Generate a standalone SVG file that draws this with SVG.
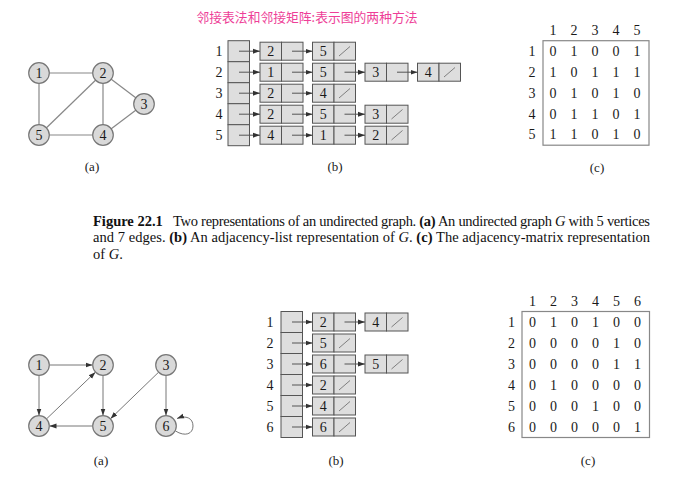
<svg xmlns="http://www.w3.org/2000/svg" width="682" height="478" viewBox="0 0 682 478">
<defs>
<marker id="ah" viewBox="0 0 10 10" refX="10" refY="5" markerWidth="7" markerHeight="7" markerUnits="userSpaceOnUse" orient="auto"><path d="M0,1.5 L10,5 L0,8.5 z" fill="#333"/></marker>
</defs>
<style>
text{font-family:"Liberation Serif","Times New Roman",serif;fill:#1a1a1a}
.t{font-family:"Noto Sans CJK SC","Noto Sans",sans-serif;fill:#ee3f98;font-size:12.8px}
.n{font-size:14px;text-anchor:middle}
.lb{font-size:13px;text-anchor:middle}
.c{fill:#d9d9d9;stroke:#777;stroke-width:1.2}
.e{stroke:#888;stroke-width:1.2;fill:none}
.d{stroke:#777;stroke-width:1;fill:none;marker-end:url(#ah)}
.cell{fill:#dedede;stroke:#555;stroke-width:1}
.p{stroke:#555;stroke-width:1;fill:none;marker-end:url(#ah)}
.s{stroke:#666;stroke-width:0.8}
.box{fill:none;stroke:#888;stroke-width:1.2}
.cap{font-size:14.5px;fill:#111}
</style>
<text class="t" x="307" y="22" text-anchor="middle">邻接表法和邻接矩阵:表示图的两种方法</text>

<!-- top graph (a) -->
<g id="edges-top">
<line class="e" x1="39" y1="73" x2="103" y2="73"/>
<line class="e" x1="39" y1="73" x2="39" y2="135"/>
<line class="e" x1="39" y1="135" x2="103" y2="73"/>
<line class="e" x1="103" y1="73" x2="103" y2="135"/>
<line class="e" x1="103" y1="73" x2="144" y2="104"/>
<line class="e" x1="144" y1="104" x2="103" y2="135"/>
<line class="e" x1="39" y1="135" x2="103" y2="135"/>
</g>
<g id="ta1"><circle class="c" cx="39" cy="73" r="10.3"/><text class="n" x="39" y="78">1</text></g>
<g id="ta2"><circle class="c" cx="103" cy="73" r="10.3"/><text class="n" x="103" y="78">2</text></g>
<g id="ta3"><circle class="c" cx="144" cy="104" r="10.3"/><text class="n" x="144" y="109">3</text></g>
<g id="ta4"><circle class="c" cx="103" cy="135" r="10.3"/><text class="n" x="103" y="140">4</text></g>
<g id="ta5"><circle class="c" cx="39" cy="135" r="10.3"/><text class="n" x="39" y="140">5</text></g>
<text class="lb" x="92" y="171">(a)</text>

<!-- top list (b) -->
<g id="tlist">
<text class="n" x="219" y="56">1</text><text class="n" x="219" y="77">2</text><text class="n" x="219" y="98">3</text><text class="n" x="219" y="119">4</text><text class="n" x="219" y="140">5</text>
<rect class="cell" x="228" y="40.7" width="21.5" height="21"/>
<rect class="cell" x="228" y="61.7" width="21.5" height="21"/>
<rect class="cell" x="228" y="82.7" width="21.5" height="21"/>
<rect class="cell" x="228" y="103.7" width="21.5" height="21"/>
<rect class="cell" x="228" y="124.7" width="21.5" height="21"/>
<g id="t1"><rect class="cell" x="260" y="42.2" width="21.5" height="18"/><rect class="cell" x="281.5" y="42.2" width="21.5" height="18"/><text class="n" x="270.8" y="56">2</text></g>
<g id="t1b"><rect class="cell" x="312.5" y="42.2" width="21.5" height="18"/><rect class="cell" x="334" y="42.2" width="21.5" height="18"/><text class="n" x="323.3" y="56">5</text><line class="s" x1="339" y1="56" x2="350" y2="46.5"/></g>
<g id="t2"><rect class="cell" x="260" y="63.2" width="21.5" height="18"/><rect class="cell" x="281.5" y="63.2" width="21.5" height="18"/><text class="n" x="270.8" y="77">1</text></g>
<g id="t2b"><rect class="cell" x="312.5" y="63.2" width="21.5" height="18"/><rect class="cell" x="334" y="63.2" width="21.5" height="18"/><text class="n" x="323.3" y="77">5</text></g>
<g id="t2c"><rect class="cell" x="365" y="63.2" width="21.5" height="18"/><rect class="cell" x="386.5" y="63.2" width="21.5" height="18"/><text class="n" x="375.8" y="77">3</text></g>
<g id="t2d"><rect class="cell" x="417.5" y="63.2" width="21.5" height="18"/><rect class="cell" x="439" y="63.2" width="21.5" height="18"/><text class="n" x="428.3" y="77">4</text><line class="s" x1="444" y1="77" x2="455" y2="67.5"/></g>
<g id="t3"><rect class="cell" x="260" y="84.2" width="21.5" height="18"/><rect class="cell" x="281.5" y="84.2" width="21.5" height="18"/><text class="n" x="270.8" y="98">2</text></g>
<g id="t3b"><rect class="cell" x="312.5" y="84.2" width="21.5" height="18"/><rect class="cell" x="334" y="84.2" width="21.5" height="18"/><text class="n" x="323.3" y="98">4</text><line class="s" x1="339" y1="98" x2="350" y2="88.5"/></g>
<g id="t4"><rect class="cell" x="260" y="105.2" width="21.5" height="18"/><rect class="cell" x="281.5" y="105.2" width="21.5" height="18"/><text class="n" x="270.8" y="119">2</text></g>
<g id="t4b"><rect class="cell" x="312.5" y="105.2" width="21.5" height="18"/><rect class="cell" x="334" y="105.2" width="21.5" height="18"/><text class="n" x="323.3" y="119">5</text></g>
<g id="t4c"><rect class="cell" x="365" y="105.2" width="21.5" height="18"/><rect class="cell" x="386.5" y="105.2" width="21.5" height="18"/><text class="n" x="375.8" y="119">3</text><line class="s" x1="391.5" y1="119" x2="402.5" y2="109.5"/></g>
<g id="t5"><rect class="cell" x="260" y="126.2" width="21.5" height="18"/><rect class="cell" x="281.5" y="126.2" width="21.5" height="18"/><text class="n" x="270.8" y="140">4</text></g>
<g id="t5b"><rect class="cell" x="312.5" y="126.2" width="21.5" height="18"/><rect class="cell" x="334" y="126.2" width="21.5" height="18"/><text class="n" x="323.3" y="140">1</text></g>
<g id="t5c"><rect class="cell" x="365" y="126.2" width="21.5" height="18"/><rect class="cell" x="386.5" y="126.2" width="21.5" height="18"/><text class="n" x="375.8" y="140">2</text><line class="s" x1="391.5" y1="140" x2="402.5" y2="130.5"/></g>
</g>
<g id="tlist-arrows">
<line class="p" x1="239" y1="51.2" x2="260" y2="51.2"/><line class="p" x1="292" y1="51.2" x2="312.5" y2="51.2"/>
<line class="p" x1="239" y1="72.2" x2="260" y2="72.2"/><line class="p" x1="292" y1="72.2" x2="312.5" y2="72.2"/><line class="p" x1="344.5" y1="72.2" x2="365" y2="72.2"/><line class="p" x1="397" y1="72.2" x2="417.5" y2="72.2"/>
<line class="p" x1="239" y1="93.2" x2="260" y2="93.2"/><line class="p" x1="292" y1="93.2" x2="312.5" y2="93.2"/>
<line class="p" x1="239" y1="114.2" x2="260" y2="114.2"/><line class="p" x1="292" y1="114.2" x2="312.5" y2="114.2"/><line class="p" x1="344.5" y1="114.2" x2="365" y2="114.2"/>
<line class="p" x1="239" y1="135.2" x2="260" y2="135.2"/><line class="p" x1="292" y1="135.2" x2="312.5" y2="135.2"/><line class="p" x1="344.5" y1="135.2" x2="365" y2="135.2"/>
</g>
<text class="lb" x="335" y="171">(b)</text>

<!-- top matrix (c) -->
<g id="tmatrix">
<rect class="box" x="543" y="40.7" width="106" height="104.5"/>
<text class="n" x="553" y="35">1</text><text class="n" x="574" y="35">2</text><text class="n" x="595" y="35">3</text><text class="n" x="616" y="35">4</text><text class="n" x="637" y="35">5</text>
<text class="n" x="532" y="56">1</text><text class="n" x="532" y="77">2</text><text class="n" x="532" y="98">3</text><text class="n" x="532" y="119">4</text><text class="n" x="532" y="139">5</text>
<text class="n" x="553" y="56">0</text><text class="n" x="574" y="56">1</text><text class="n" x="595" y="56">0</text><text class="n" x="616" y="56">0</text><text class="n" x="637" y="56">1</text>
<text class="n" x="553" y="77">1</text><text class="n" x="574" y="77">0</text><text class="n" x="595" y="77">1</text><text class="n" x="616" y="77">1</text><text class="n" x="637" y="77">1</text>
<text class="n" x="553" y="98">0</text><text class="n" x="574" y="98">1</text><text class="n" x="595" y="98">0</text><text class="n" x="616" y="98">1</text><text class="n" x="637" y="98">0</text>
<text class="n" x="553" y="119">0</text><text class="n" x="574" y="119">1</text><text class="n" x="595" y="119">1</text><text class="n" x="616" y="119">0</text><text class="n" x="637" y="119">1</text>
<text class="n" x="553" y="139">1</text><text class="n" x="574" y="139">1</text><text class="n" x="595" y="139">0</text><text class="n" x="616" y="139">1</text><text class="n" x="637" y="139">0</text>
</g>
<text class="lb" x="597" y="172">(c)</text>

<!-- caption -->
<text class="cap" x="93" y="225.5" font-weight="bold">Figure 22.1</text>
<text class="cap" x="173" y="225.5" textLength="477" lengthAdjust="spacing">Two representations of an undirected graph. <tspan font-weight="bold">(a)</tspan> An undirected graph <tspan font-style="italic">G</tspan> with 5 vertices</text>
<text class="cap" x="93" y="242" textLength="557" lengthAdjust="spacing">and 7 edges.  <tspan font-weight="bold">(b)</tspan> An adjacency-list representation of <tspan font-style="italic">G</tspan>.  <tspan font-weight="bold">(c)</tspan> The adjacency-matrix representation</text>
<text class="cap" x="93" y="258.5">of <tspan font-style="italic">G</tspan>.</text>

<!-- bottom graph (a) -->
<g id="edges-bot">
<line class="d" x1="49.5" y1="365" x2="92.5" y2="365"/>
<line class="d" x1="39" y1="375.5" x2="39" y2="415.5"/>
<line class="d" x1="103" y1="375.5" x2="103" y2="415.5"/>
<line class="d" x1="46.6" y1="418.8" x2="95.4" y2="372.2"/>
<line class="d" x1="92.5" y1="426" x2="49.5" y2="426"/>
<line class="d" x1="158.5" y1="372.3" x2="110.5" y2="418.7"/>
<line class="d" x1="166" y1="375.5" x2="166" y2="415.5"/>
<path class="d" d="M175.5,431 C185,437 193,434 193,426 C193,418 186,415 177,418.5"/>
</g>
<g id="ba1"><circle class="c" cx="39" cy="365" r="10.3"/><text class="n" x="39" y="370">1</text></g>
<g id="ba2"><circle class="c" cx="103" cy="365" r="10.3"/><text class="n" x="103" y="370">2</text></g>
<g id="ba3"><circle class="c" cx="166" cy="365" r="10.3"/><text class="n" x="166" y="370">3</text></g>
<g id="ba4"><circle class="c" cx="39" cy="426" r="10.3"/><text class="n" x="39" y="431">4</text></g>
<g id="ba5"><circle class="c" cx="103" cy="426" r="10.3"/><text class="n" x="103" y="431">5</text></g>
<g id="ba6"><circle class="c" cx="166" cy="426" r="10.3"/><text class="n" x="166" y="431">6</text></g>
<text class="lb" x="101" y="465">(a)</text>

<!-- bottom list (b) -->
<g id="blist">
<text class="n" x="270" y="327">1</text><text class="n" x="270" y="348">2</text><text class="n" x="270" y="369">3</text><text class="n" x="270" y="390">4</text><text class="n" x="270" y="411">5</text><text class="n" x="270" y="432">6</text>
<rect class="cell" x="281" y="311.5" width="21.5" height="21"/>
<rect class="cell" x="281" y="332.5" width="21.5" height="21"/>
<rect class="cell" x="281" y="353.5" width="21.5" height="21"/>
<rect class="cell" x="281" y="374.5" width="21.5" height="21"/>
<rect class="cell" x="281" y="395.5" width="21.5" height="21"/>
<rect class="cell" x="281" y="416.5" width="21.5" height="21"/>
<g id="b1"><rect class="cell" x="312.5" y="313" width="21.5" height="18"/><rect class="cell" x="334" y="313" width="21.5" height="18"/><text class="n" x="323.3" y="327">2</text></g>
<g id="b1b"><rect class="cell" x="365" y="313" width="21.5" height="18"/><rect class="cell" x="386.5" y="313" width="21.5" height="18"/><text class="n" x="375.8" y="327">4</text><line class="s" x1="391.5" y1="327" x2="402.5" y2="317.5"/></g>
<g id="b2"><rect class="cell" x="312.5" y="334" width="21.5" height="18"/><rect class="cell" x="334" y="334" width="21.5" height="18"/><text class="n" x="323.3" y="348">5</text><line class="s" x1="339" y1="348" x2="350" y2="338.5"/></g>
<g id="b3"><rect class="cell" x="312.5" y="355" width="21.5" height="18"/><rect class="cell" x="334" y="355" width="21.5" height="18"/><text class="n" x="323.3" y="369">6</text></g>
<g id="b3b"><rect class="cell" x="365" y="355" width="21.5" height="18"/><rect class="cell" x="386.5" y="355" width="21.5" height="18"/><text class="n" x="375.8" y="369">5</text><line class="s" x1="391.5" y1="369" x2="402.5" y2="359.5"/></g>
<g id="b4"><rect class="cell" x="312.5" y="376" width="21.5" height="18"/><rect class="cell" x="334" y="376" width="21.5" height="18"/><text class="n" x="323.3" y="390">2</text><line class="s" x1="339" y1="390" x2="350" y2="380.5"/></g>
<g id="b5"><rect class="cell" x="312.5" y="397" width="21.5" height="18"/><rect class="cell" x="334" y="397" width="21.5" height="18"/><text class="n" x="323.3" y="411">4</text><line class="s" x1="339" y1="411" x2="350" y2="401.5"/></g>
<g id="b6"><rect class="cell" x="312.5" y="418" width="21.5" height="18"/><rect class="cell" x="334" y="418" width="21.5" height="18"/><text class="n" x="323.3" y="432">6</text><line class="s" x1="339" y1="432" x2="350" y2="422.5"/></g>
</g>
<g id="blist-arrows">
<line class="p" x1="292" y1="322" x2="312.5" y2="322"/><line class="p" x1="344.5" y1="322" x2="365" y2="322"/>
<line class="p" x1="292" y1="343" x2="312.5" y2="343"/>
<line class="p" x1="292" y1="364" x2="312.5" y2="364"/><line class="p" x1="344.5" y1="364" x2="365" y2="364"/>
<line class="p" x1="292" y1="385" x2="312.5" y2="385"/>
<line class="p" x1="292" y1="406" x2="312.5" y2="406"/>
<line class="p" x1="292" y1="427" x2="312.5" y2="427"/>
</g>
<text class="lb" x="336" y="465">(b)</text>

<!-- bottom matrix (c) -->
<g id="bmatrix">
<rect class="box" x="522" y="311.5" width="127.5" height="126"/>
<text class="n" x="532.5" y="306">1</text><text class="n" x="553.5" y="306">2</text><text class="n" x="574.5" y="306">3</text><text class="n" x="595.5" y="306">4</text><text class="n" x="616.5" y="306">5</text><text class="n" x="637.5" y="306">6</text>
<text class="n" x="511.5" y="327">1</text><text class="n" x="511.5" y="348">2</text><text class="n" x="511.5" y="369">3</text><text class="n" x="511.5" y="390">4</text><text class="n" x="511.5" y="411">5</text><text class="n" x="511.5" y="432">6</text>
<text class="n" x="532.5" y="327">0</text><text class="n" x="553.5" y="327">1</text><text class="n" x="574.5" y="327">0</text><text class="n" x="595.5" y="327">1</text><text class="n" x="616.5" y="327">0</text><text class="n" x="637.5" y="327">0</text>
<text class="n" x="532.5" y="348">0</text><text class="n" x="553.5" y="348">0</text><text class="n" x="574.5" y="348">0</text><text class="n" x="595.5" y="348">0</text><text class="n" x="616.5" y="348">1</text><text class="n" x="637.5" y="348">0</text>
<text class="n" x="532.5" y="369">0</text><text class="n" x="553.5" y="369">0</text><text class="n" x="574.5" y="369">0</text><text class="n" x="595.5" y="369">0</text><text class="n" x="616.5" y="369">1</text><text class="n" x="637.5" y="369">1</text>
<text class="n" x="532.5" y="390">0</text><text class="n" x="553.5" y="390">1</text><text class="n" x="574.5" y="390">0</text><text class="n" x="595.5" y="390">0</text><text class="n" x="616.5" y="390">0</text><text class="n" x="637.5" y="390">0</text>
<text class="n" x="532.5" y="411">0</text><text class="n" x="553.5" y="411">0</text><text class="n" x="574.5" y="411">0</text><text class="n" x="595.5" y="411">1</text><text class="n" x="616.5" y="411">0</text><text class="n" x="637.5" y="411">0</text>
<text class="n" x="532.5" y="432">0</text><text class="n" x="553.5" y="432">0</text><text class="n" x="574.5" y="432">0</text><text class="n" x="595.5" y="432">0</text><text class="n" x="616.5" y="432">0</text><text class="n" x="637.5" y="432">1</text>
</g>
<text class="lb" x="588" y="465">(c)</text>
</svg>
